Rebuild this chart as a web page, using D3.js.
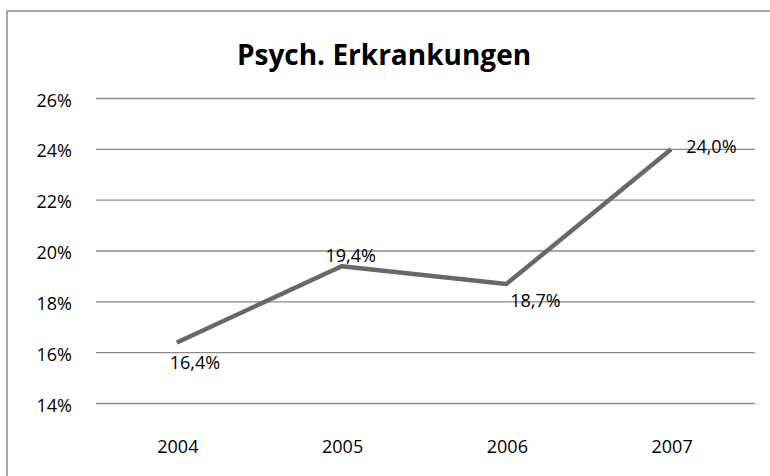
<!DOCTYPE html>
<html>
<head>
<meta charset="utf-8">
<script src="https://cdn.jsdelivr.net/npm/d3@7"></script>
<style>
  body { margin: 0; background: #fff; }
  svg text { font-family: "Open Sans", "Noto Sans", sans-serif; fill: #000; }
</style>
</head>
<body>
<div id="container"></div>
<script>
const years = ['2004', '2005', '2006', '2007'];
const values = [16.4, 19.4, 18.7, 24.0];
const yTicks = [14, 16, 18, 20, 22, 24, 26];
const title = 'Psych. Erkrankungen';

const width = 770;
const height = 476;
const plot = { left: 96, right: 755, top: 98.5, bottom: 403.5 };

// label placement relative to its point: [dx, dy, anchor]
const labelOffset = [[18, 26.5, 'middle'], [9, -4.5, 'middle'], [29, 22.5, 'middle'], [15, 4, 'start']];

const svg = d3.select('#container').append('svg')
  .attr('width', width)
  .attr('height', height);

// chart border
svg.append('rect')
  .attr('x', 7).attr('y', 11)
  .attr('width', 780).attr('height', 480)
  .attr('fill', 'none')
  .attr('stroke', '#8c8c8c')
  .attr('stroke-width', 1.5);

svg.append('text')
  .attr('x', 384).attr('y', 65)
  .attr('text-anchor', 'middle')
  .attr('font-size', 28)
  .attr('font-weight', 'bold')
  .text(title);

const x = d3.scaleBand()
  .domain(years)
  .range([plot.left, plot.right]);

const y = d3.scaleLinear()
  .domain([14, 26])
  .range([plot.bottom, plot.top]);

const cx = d => x(d) + x.bandwidth() / 2 - 1.5;

// gridlines
svg.append('g').selectAll('line').data(yTicks).enter().append('line')
  .attr('x1', plot.left).attr('x2', plot.right)
  .attr('y1', d => y(d)).attr('y2', d => y(d))
  .attr('stroke', '#8a8a8a')
  .attr('stroke-width', 1.3);

// y labels
svg.append('g').selectAll('text').data(yTicks).enter().append('text')
  .attr('x', 72)
  .attr('y', d => y(d) + 8)
  .attr('text-anchor', 'end')
  .attr('font-size', 18)
  .text(d => d + '%');

// x labels
svg.append('g').selectAll('text').data(years).enter().append('text')
  .attr('x', d => cx(d) + 1)
  .attr('y', 453)
  .attr('text-anchor', 'middle')
  .attr('font-size', 18)
  .text(d => d);

const line = d3.line()
  .x((d, i) => cx(years[i]))
  .y(d => y(d));

svg.append('path')
  .datum(values)
  .attr('d', line)
  .attr('fill', 'none')
  .attr('stroke', '#686868')
  .attr('stroke-width', 4.5)
  .attr('stroke-linejoin', 'round');

const fmt = v => v.toFixed(1).replace('.', ',') + '%';

svg.append('g').selectAll('text').data(values).enter().append('text')
  .attr('x', (d, i) => cx(years[i]) + labelOffset[i][0])
  .attr('y', (d, i) => y(d) + labelOffset[i][1])
  .attr('text-anchor', (d, i) => labelOffset[i][2])
  .attr('font-size', 18)
  .text(fmt);
</script>
</body>
</html>
